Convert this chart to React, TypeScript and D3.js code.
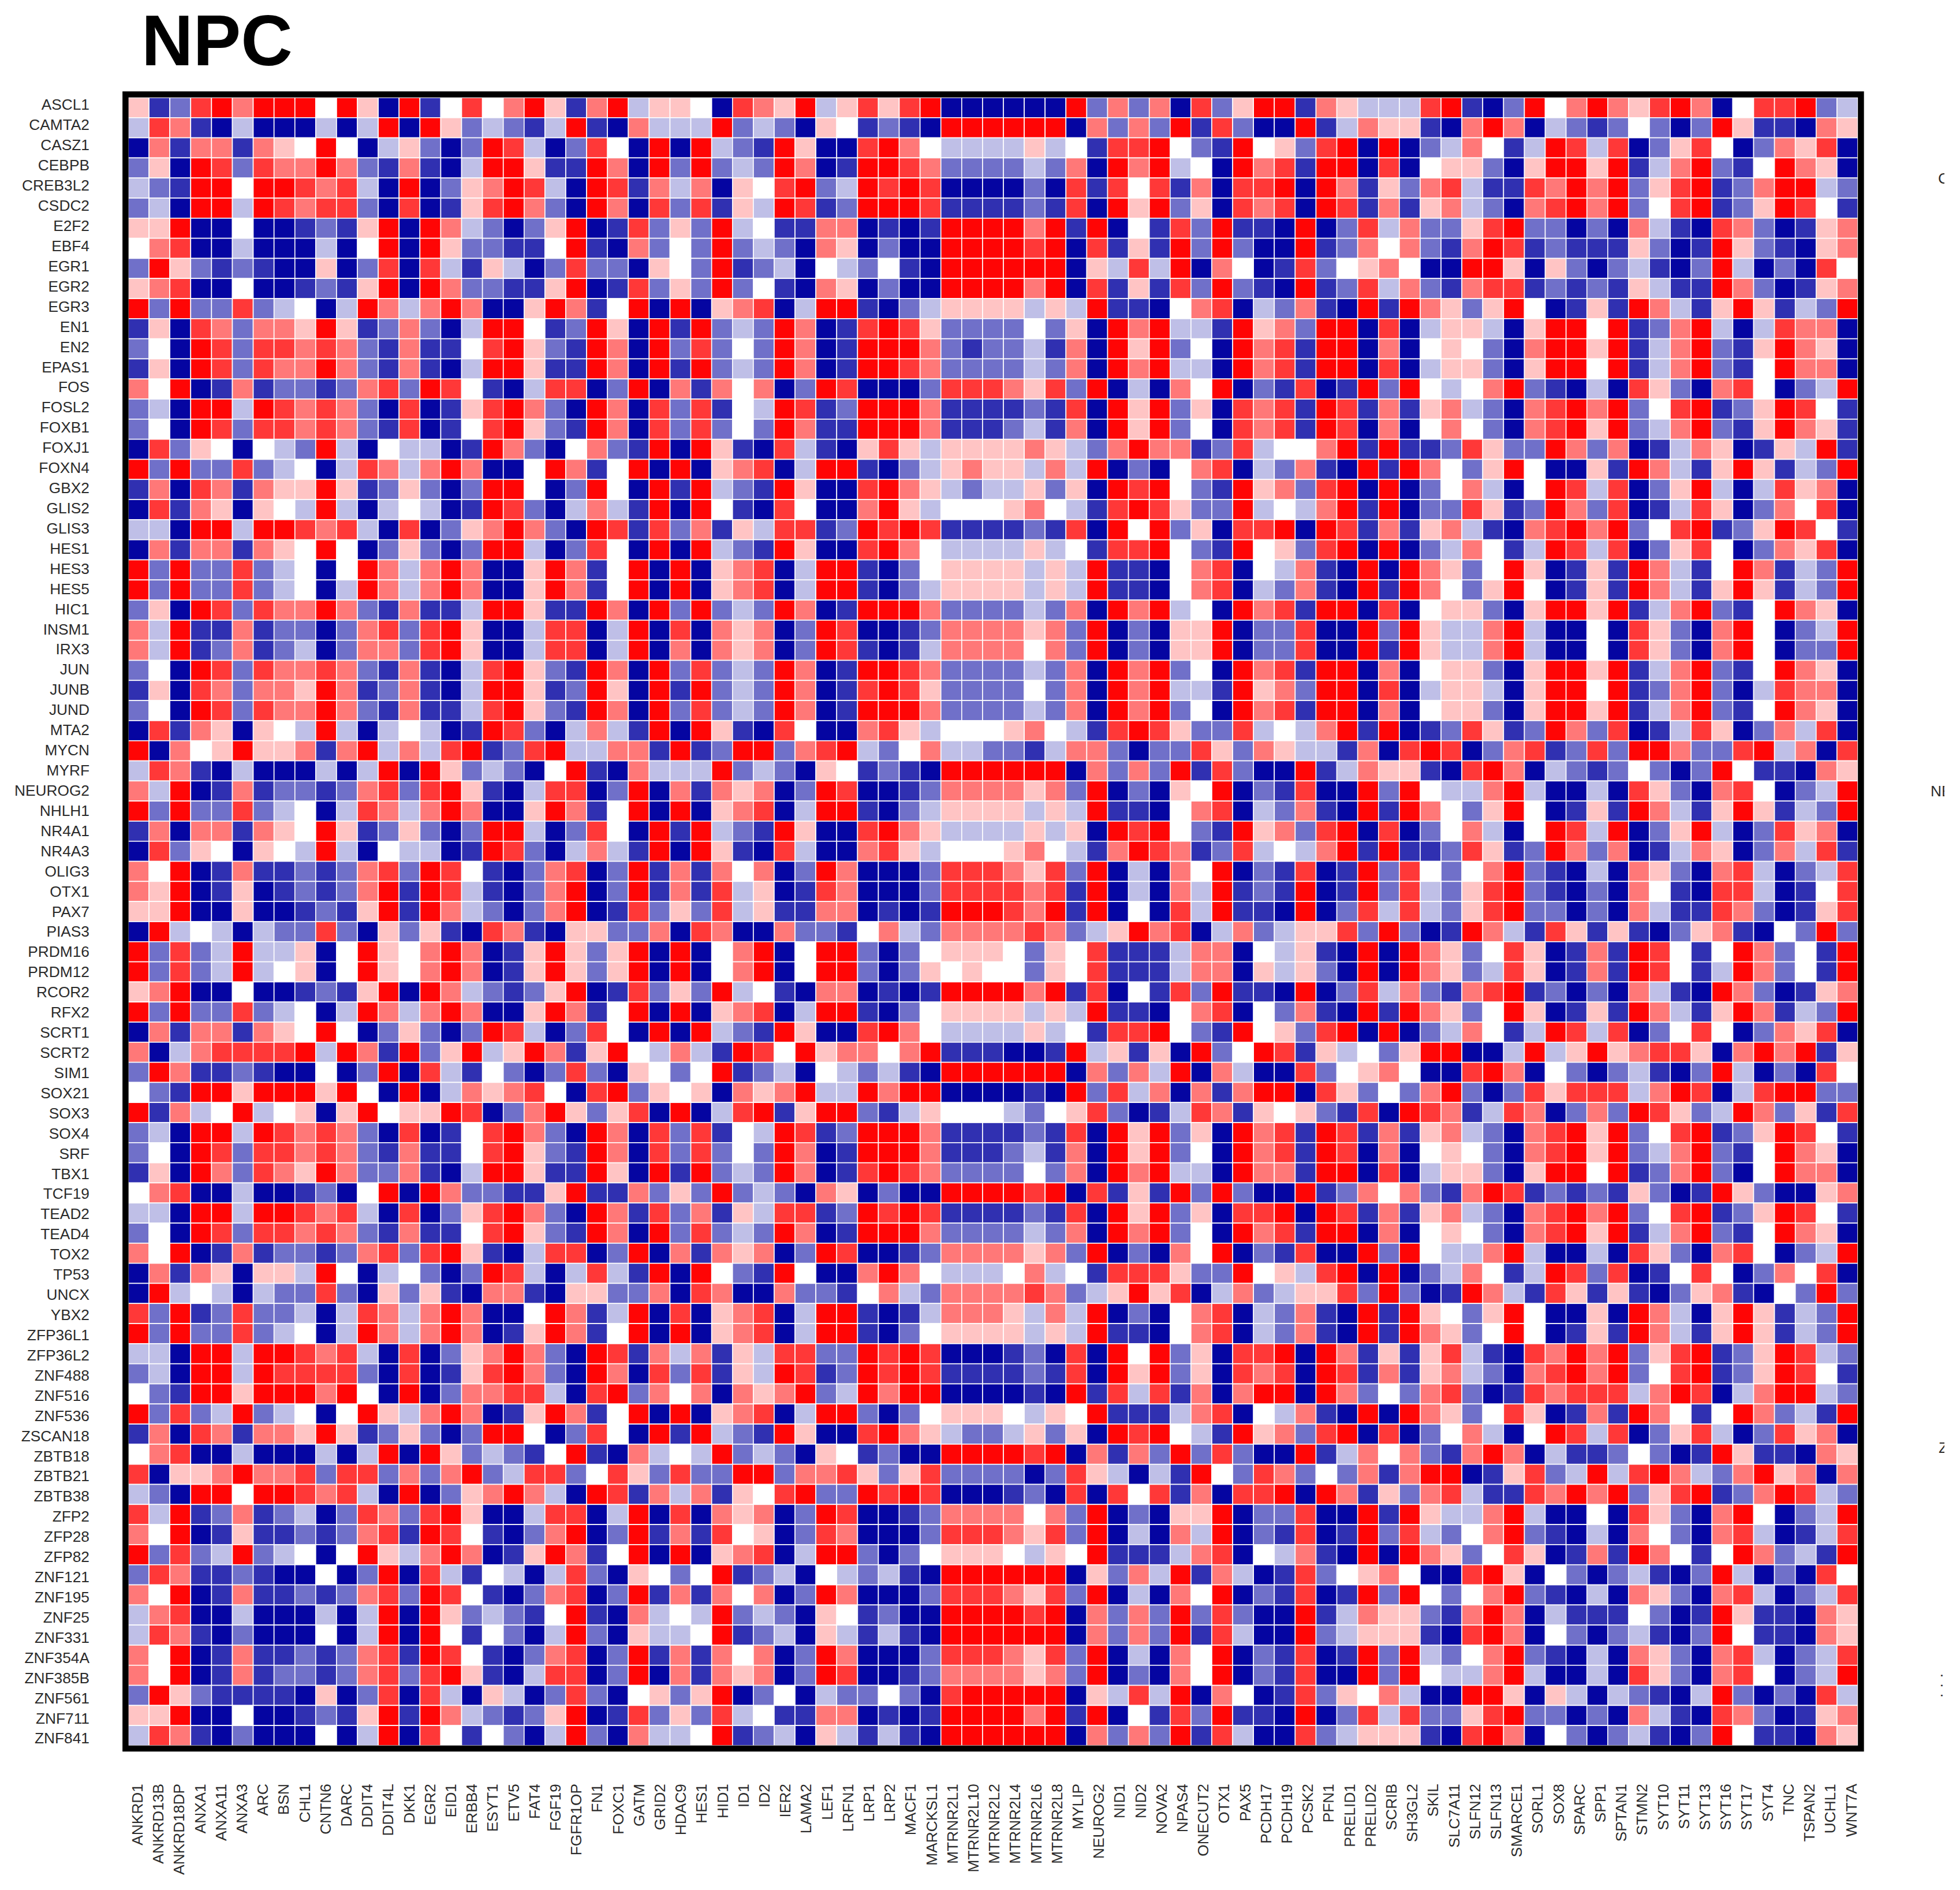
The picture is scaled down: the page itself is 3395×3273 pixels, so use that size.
import React from 'react';
import * as d3 from 'd3';

const rowNames = ['ASCL1','CAMTA2','CASZ1','CEBPB','CREB3L2','CSDC2','E2F2','EBF4','EGR1','EGR2','EGR3','EN1','EN2','EPAS1','FOS','FOSL2','FOXB1','FOXJ1','FOXN4','GBX2','GLIS2','GLIS3','HES1','HES3','HES5','HIC1','INSM1','IRX3','JUN','JUNB','JUND','MTA2','MYCN','MYRF','NEUROG2','NHLH1','NR4A1','NR4A3','OLIG3','OTX1','PAX7','PIAS3','PRDM16','PRDM12','RCOR2','RFX2','SCRT1','SCRT2','SIM1','SOX21','SOX3','SOX4','SRF','TBX1','TCF19','TEAD2','TEAD4','TOX2','TP53','UNCX','YBX2','ZFP36L1','ZFP36L2','ZNF488','ZNF516','ZNF536','ZSCAN18','ZBTB18','ZBTB21','ZBTB38','ZFP2','ZFP28','ZFP82','ZNF121','ZNF195','ZNF25','ZNF331','ZNF354A','ZNF385B','ZNF561','ZNF711','ZNF841'];

const colNames = ['ANKRD1','ANKRD13B','ANKRD18DP','ANXA1','ANXA11','ANXA3','ARC','BSN','CHL1','CNTN6','DARC','DDIT4','DDIT4L','DKK1','EGR2','EID1','ERBB4','ESYT1','ETV5','FAT4','FGF19','FGFR1OP','FN1','FOXC1','GATM','GRID2','HDAC9','HES1','HID1','ID1','ID2','IER2','LAMA2','LEF1','LRFN1','LRP1','LRP2','MACF1','MARCKSL1','MTRNR2L1','MTRNR2L10','MTRNR2L2','MTRNR2L4','MTRNR2L6','MTRNR2L8','MYLIP','NEUROG2','NID1','NID2','NOVA2','NPAS4','ONECUT2','OTX1','PAX5','PCDH17','PCDH19','PCSK2','PFN1','PRELID1','PRELID2','SCRIB','SH3GL2','SKIL','SLC7A11','SLFN12','SLFN13','SMARCE1','SORL1','SOX8','SPARC','SPP1','SPTAN1','STMN2','SYT10','SYT11','SYT13','SYT16','SYT17','SYT4','TNC','TSPAN2','UCHL1','WNT7A'];

// colour steps, 0 = deepest blue, 4 = white, 8 = pure red
const levelValues = [-0.98, -0.81, -0.56, -0.25, 0, 0.23, 0.53, 0.78, 0.98];

// columns ANKRD1 .. HES1
const leftCells = [
  '5127868 8848508 1474685 1683554','3761030 0030380 8523213 8106333','0616616 5484035 2028730 2740808','2508727 6686216 1038851 1860828',
  '3218848 8767308 0256873 0871636','2308838 7677207 0157862 0860727','5580040 0121580 8632025 8017252','4670030 0030480 8522114 8106242',
  '2852121 0050270 7315302 7220542','5670040 0121580 8622115 8017252','8282272 3403863 6860058 6148080','1507626 6585126 2038841 2850818',
  '2408727 7676216 1147852 1860827','1508727 6686216 1038851 1860818','6480161 2212672 8741037 7028061','2308838 7676207 0157862 0860727',
  '2408727 7676217 0147852 1860727','0725404 3283043 3018620 4621808','8282272 3403763 6860048 6148080','1607616 5585125 2028840 2840818',
  '0716505 4383034 3018720 3631808','3308838 8767307 0256862 0871726','0616616 5484025 2028830 2740808','8282272 3404863 6860058 6148080',
  '8282272 3403863 6860058 6148080','2508727 6686216 1138851 1860828','6381161 2202672 7850037 7038070','6381261 2302662 7850037 7038060',
  '2408727 6676216 1037852 1860827','1507626 6586126 1038851 2850818','2408727 6686216 1137852 1860827','0716505 4383034 3018720 3631808',
  '8064585 5616836 3781278 3366181','3761030 0030380 8523204 8106333','6380161 2212672 7851037 7028061','8282272 3403763 6860058 6148080',
  '1606616 5485125 2028830 2740818','0725405 4383043 3018720 3631808','6480161 1212672 8741026 7028161','6580150 1212681 8731026 8028161',
  '5580050 0121581 8632026 8017252','0834303 2272052 5107610 5522607','8272383 3504854 6860158 5258080','8272383 4504854 6860158 5258080',
  '5680040 0121580 8632125 8017252','8282272 3403863 6860058 6148080','0616616 5484025 2028730 2740808','6036777 7838618 2583586 1584363',
  '2861121 0040280 7314202 7205424','4218858 8858408 0365674 0782545','8163483 4505845 5870268 5257080','2308838 7676207 0147862 0860727',
  '2408727 7676216 1147852 1860727','1508627 6586226 1038851 1850818','4670030 0120480 8622115 8116252','3308838 8767307 0257862 0861726',
  '2408727 7676216 1147852 1860827','6480161 2212672 7851037 7028061','0616505 5384034 2028730 3731808','0834303 2272052 5106610 5522607',
  '7281272 2303763 6860048 6138070','8282272 3403863 6860158 6148080','3308838 8767307 0256862 0871636','2308838 7777207 0157862 0860727',
  '4218858 8868408 0266773 0782646','8272382 3404853 6860158 6148080','1607616 6585125 2028840 2740818','4670030 0030380 8523214 8106343',
  '7055686 6727726 2682377 2475272','3208848 8767308 0256863 0871636','7381261 2302762 7850037 7038070','6480151 1212671 8741026 8028161',
  '8272382 3404853 6860158 6148080','2761121 0040280 7314303 7205424','6480161 1212672 8741026 7028161','3670030 0030380 8523214 8106343',
  '3761020 0040380 8414203 8205334','6480161 1212671 8741026 7028161','6480161 2212672 7851037 7028061','2852111 1050270 7305302 7204525',
  '5580040 0121581 8632125 8017252','3761020 0040380 7414203 8206334',
];

// columns HID1 .. PCDH19
const middleCells = [
  '0765835 7578000 0008262 6072588','8232054 1210888 8880626 2817200','3218500 7864333 3534177 8421845','2328601 8876222 2326086 8340867',
  '0547823 8787000 0207174 7160778','1538712 8887111 1217085 8250767','8341166 0101888 8681804 1728110','8232065 0200888 8780715 1828200',
  '8123043 2410888 8880537 3806401','8241065 0200888 8680715 1728210','5670388 1023555 5353811 0467032','2328601 7875222 2425086 8331856',
  '2428601 8886212 2316085 8240867','2328601 8876222 2326086 8330867','6460287 0002777 6572803 0648021','1438712 8886111 1217085 8250767',
  '2428611 8886111 2316085 8240767','5107310 5753555 5653268 6612734','5670388 1023565 5363802 0467032','3218500 7865323 3525087 8421856',
  '4107400 6853444 5643178 7522834','1537712 8787111 1217084 8250778','3218500 7864333 3534177 8421845','5670388 1024555 5353811 0467043',
  '5670388 1023555 5353811 0467032','2328601 8886222 2326086 8340867','6560287 0012666 6562802 0558022','6560287 1013666 6462802 0558022',
  '2328601 8876222 2326086 8240867','2328601 7875222 2426086 8331856','2328601 8886222 2326086 8240867','5107400 6753444 5643178 7522734',
  '2882678 3246332 2136620 2275265','8232054 1210888 8880626 2817200','6560287 0012666 6562802 0548021','5670388 1023555 5353811 0467032',
  '3218500 7865333 3535087 8421856','5107300 6753444 5643168 7612734','6460286 0002777 6572803 0648021','7350176 0002777 7671803 0638121',
  '7351166 0101888 7681804 0738110','6006221 4632666 6762358 6703623','4680488 2024555 4254711 1366043','4680488 2025454 4254711 1366053',
  '8341066 0101888 8681704 1728110','5670388 1024555 5353811 0467042','3218500 7864333 3534177 8421845','1874856 6468111 0018351 5082487',
  '8123043 2310888 8880626 3806300','0656833 8688000 0108273 6061688','3781588 2135444 3245720 1376154','1438712 8886111 1217085 8250867',
  '2428601 8886111 2316085 8240867','2328601 7876222 2426086 8330866','8232065 0200888 8780715 1828200','1537712 8787111 1217085 8250778',
  '2328601 8886222 2326086 8240867','6560287 0012666 6562802 0648021','4218400 6864333 4634177 7522845','6006221 4632666 6762358 5703623',
  '5670388 1013666 5363802 0467032','5670388 1024555 5353811 0467032','1537722 8787000 1207084 8250778','1538712 8787111 1217085 8250767',
  '0656823 8688000 0108173 7160688','5670388 2024555 4354811 1367043','3218500 7865322 3525087 8431856','8232054 1200888 8780616 2827200',
  '2882667 5257222 2027530 3184276','1547822 8787000 1207074 7160778','6560287 0012666 6462802 0558022','7450276 0002777 6572803 0638021',
  '5670388 2024555 4354811 1367043','8123043 2310888 8880526 3816301','6460286 0002777 6572803 0648021','8232054 1200888 8780626 2827200',
  '8123053 1310888 8880626 2817300','6460286 0002777 6572803 0648021','6560287 0012666 6562802 0648021','8024032 2420788 8880537 3806401',
  '7341166 0101888 8681804 1728110','8123053 1310888 8880626 2817300',
];

// columns PCSK2 .. WNT7A
const rightCells = [
  '1653337 8102846 8657860 477823','8136551 0686032 1242028 511065','2780802 3641387 3702574 026570','1880704 5520588 5813682 148650',
  '0861526 7311768 6825781 268832','0871615 6320678 6824781 258741','8027362 2578220 2063107 620156','8126462 1687121 1152018 521056',
  '7245640 0885052 0231028 302074','8127362 1677121 2153118 620156','6108186 5258401 5186315 851328','2880703 5530588 4812683 037660',
  '1880604 5420688 5813682 158650','1880703 5520588 4813682 148660','7018284 3468210 3075206 740238','1871615 6320678 6824781 258741',
  '1870604 6420678 5823682 158651','4681811 2752286 2601365 015381','6108186 4258400 5186315 851328','2780802 4630487 3702583 037560',
  '3681802 2751286 2701375 026470','0871615 6310678 6824781 258741','2780802 3641387 3702574 026570','6108086 5248501 5186314 861328',
  '6108186 4258401 5186315 851328','1880704 5520588 5813682 148650','7008285 3368300 4075206 840238','7008185 3368300 4075206 840228',
  '1880604 5520588 5813682 148650','2880703 5530588 4812682 037660','1880604 5520588 5813682 148650','3681801 2751286 2701375 026370',
  '3316078 7026712 7288622 783607','8136551 0786032 1242028 411065','7008284 3368300 3075206 740238','6108186 4258401 5186315 851328',
  '2780702 4630487 3802583 027560','3681811 2751286 2601365 026371','7018274 2468210 3065206 730237','8018273 2578210 2064107 730147',
  '8027373 2578220 2063117 620157','5572820 1863175 1510256 104282','5108086 5247501 6187414 862418','5208086 5237501 6187413 862418',
  '8027362 1678120 2063108 620156','6108186 5248501 5186315 861328','2780802 3641387 3702474 026570','1534258 8003835 8567750 686815',
  '7245640 0786042 0231028 302074','0752426 8202757 7736870 378822','5217087 6137602 6287523 862517','1871615 6320678 5824781 258741',
  '1870604 5420678 5823682 148650','1880703 5520588 4812682 048660','8126462 1687121 2152018 520056','0871615 6320678 6824781 258741',
  '1880604 5420678 5813682 148650','7008284 3368300 3075206 740238','3780802 3641387 2701474 026470','5572820 1863175 1510256 104282',
  '6108185 4258400 5086305 851328','6108186 5248401 5186315 851328','0861515 7310768 6825781 258732','0871615 6320678 6824781 258741',
  '0862426 7201767 7736870 368832','6108086 5247501 6186414 862318','2780702 4630487 3702573 027560','8136462 1686031 1242018 511065',
  '2426168 8015723 8378632 685606','0861526 7311768 6825781 268732','7008185 3368300 4075206 840238','7018273 2468210 3064206 730137',
  '6108086 5247501 6186414 862318','7245640 0785042 0231028 302074','7018284 2468210 3065206 730237','8136552 1686031 1142018 511065',
  '8235551 0786042 0231028 411065','7018283 2468210 3065206 730237','7008284 3368300 3075206 740238','7254630 0885053 0321038 202073',
  '8027372 2578220 2063107 620156','7235551 0786042 0231028 411065',
];

// bits of the next panel's row labels, cut by the right edge of the picture
const cutLabels = [
  { text: 'C', x: 3357, y: 318 },
  { text: 'NE', x: 3344, y: 1379 },
  { text: 'Z', x: 3358, y: 2516 },
];

const fontFamily = '"Liberation Sans", Arial, sans-serif';

const App = () => {
  const x = d3.scaleBand<string>().domain(colNames).range([222, 3218]);
  const y = d3.scaleBand<string>().domain(rowNames).range([169, 3023]);

  // labels run on a slightly wider pitch than the cells in the original
  const xLabel = d3.scalePoint<string>().domain(colNames).range([237.5, 3206]);
  const yLabel = d3.scalePoint<string>().domain(rowNames).range([181, 3010]);

  const color = d3.scaleLinear<string>().domain([-1, 0, 1]).range(['#00009f', '#ffffff', '#ff0000']);

  const matrix = rowNames.map((_, i) =>
    (leftCells[i] + middleCells[i] + rightCells[i]).replace(/ /g, '').split('').map(Number)
  );

  return (
    <svg width={3395} height={3273} style={{ position: 'absolute', left: 0, top: 0, display: 'block' }}>
      <defs>
        <clipPath id="page-cut">
          <rect x={0} y={0} width={3368} height={3273} />
        </clipPath>
      </defs>
      <rect width={3395} height={3273} fill="#fff" />

      <text x={245} y={113} fontFamily={fontFamily} fontWeight="bold" fontSize={124} fill="#000">NPC</text>

      <g>
        {matrix.map((cells, i) =>
          cells.map((level, j) => (
            <rect
              key={`${i}-${j}`}
              x={x(colNames[j])}
              y={y(rowNames[i])}
              width={x.bandwidth()}
              height={y.bandwidth()}
              fill={color(levelValues[level])}
              stroke="#fff"
              strokeWidth={1.6}
            />
          ))
        )}
      </g>

      <rect x={217.4} y={163.5} width={3006} height={2864.5} fill="none" stroke="#000" strokeWidth={10.5} />

      <g fontFamily={fontFamily} fontSize={26.3} fill="#2b2b2b">
        {rowNames.map(name => (
          <text key={name} x={155} y={yLabel(name)} dy="0.36em" textAnchor="end">{name}</text>
        ))}
        {colNames.map(name => (
          <text
            key={name}
            transform={`translate(${(xLabel(name) as number) + 9.5},3089) rotate(-90)`}
            textAnchor="end"
          >
            {name}
          </text>
        ))}
        <g clipPath="url(#page-cut)">
          {cutLabels.map((d, i) => (
            <text key={i} x={d.x} y={d.y}>{d.text}</text>
          ))}
        </g>
        <text transform="translate(3362,2898) rotate(90)" letterSpacing={10}>...</text>
      </g>
    </svg>
  );
};

export default App;
